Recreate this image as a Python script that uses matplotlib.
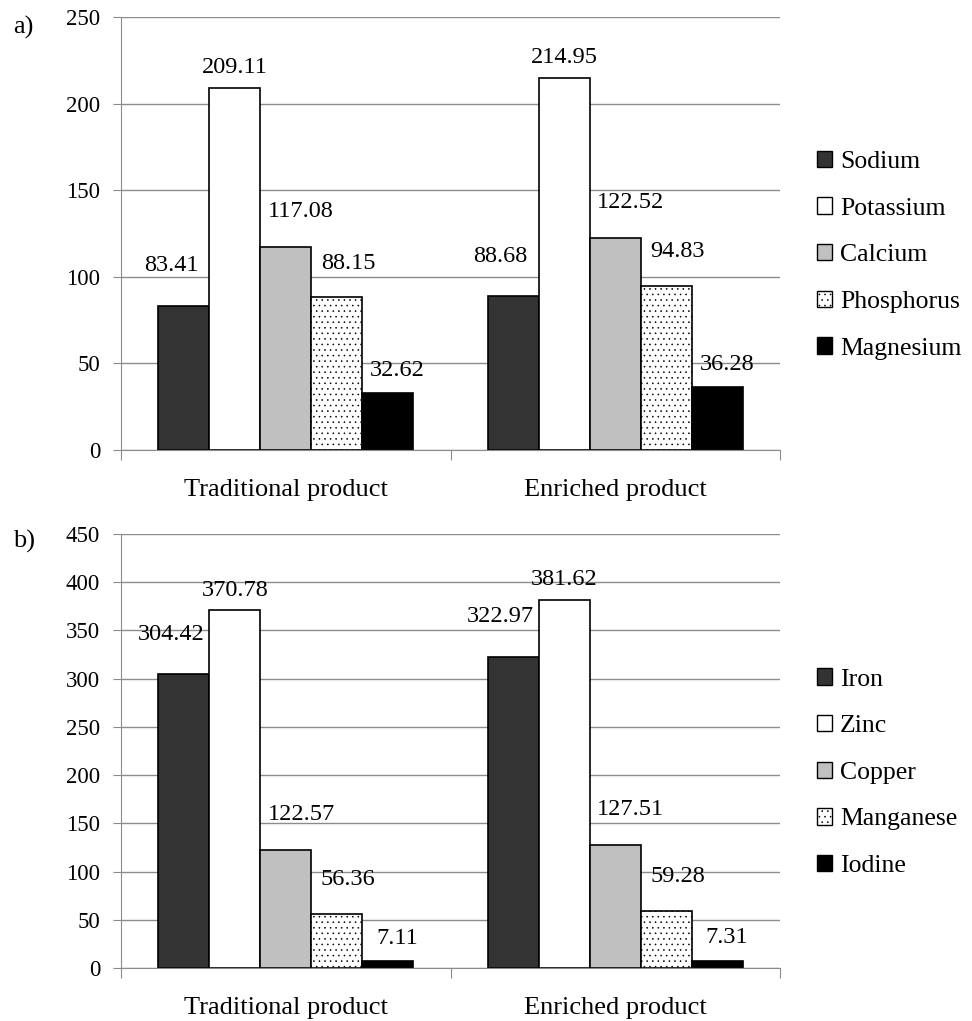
import numpy as np
import matplotlib
matplotlib.use("Agg")
import matplotlib.pyplot as plt
from matplotlib.patches import Patch

plt.rcParams['font.family'] = ['Liberation Serif', 'DejaVu Serif']
plt.rcParams['hatch.color'] = '#999999'
plt.rcParams['hatch.linewidth'] = 0.4

# data
products = ['Traditional product', 'Enriched product']

macro_names = ['Sodium', 'Potassium', 'Calcium', 'Phosphorus', 'Magnesium']
macro_values = [
    [83.41, 88.68],
    [209.11, 214.95],
    [117.08, 122.52],
    [88.15, 94.83],
    [32.62, 36.28],
]

micro_names = ['Iron', 'Zinc', 'Copper', 'Manganese', 'Iodine']
micro_values = [
    [304.42, 322.97],
    [370.78, 381.62],
    [122.57, 127.51],
    [56.36, 59.28],
    [7.11, 7.31],
]

# styles per series
fills = ['#333333', 'white', '#c0c0c0', 'white', 'black']
hatches = [None, None, None, '...', None]
# label nudges (points), per series
lab_dx = [-9, 0, 11, 8, 7]
lab_dy = [21, 7, 18, 17, 9]

FS_VAL = 17.5
FS_TICK = 16.5
FS_CAT = 19
FS_LEG = 18.5
GRID = '#8c8c8c'


def draw_panel(ax, names, values, ymax):
    n = len(names)
    bw = 0.155
    x = np.arange(len(products))
    for i in range(n):
        pos = x - bw * (n - 1) / 2 + i * bw
        ax.bar(pos, values[i], width=bw, color=fills[i], edgecolor='black',
               linewidth=1.2, hatch=hatches[i], zorder=3)
        for px, v in zip(pos, values[i]):
            ax.annotate(f'{v:.2f}', (px, v), xytext=(lab_dx[i], lab_dy[i]),
                        textcoords='offset points', ha='center', va='bottom',
                        fontsize=FS_VAL, zorder=4)
    ax.set_xlim(-0.5, len(products) - 0.5)
    ax.set_ylim(0, ymax)
    ax.set_yticks(np.arange(0, ymax + 1, 50))
    ax.yaxis.grid(True, color=GRID, linewidth=1.0, zorder=0)
    ax.set_axisbelow(True)
    ax.tick_params(axis='y', labelsize=FS_TICK, length=6, color=GRID, pad=9)
    # boundary ticks + centred labels
    ax.set_xticks(np.arange(-0.5, len(products), 1.0))
    ax.set_xticklabels([])
    ax.set_xticks(x, minor=True)
    ax.set_xticklabels(products, minor=True, fontsize=FS_CAT)
    ax.tick_params(axis='x', which='major', length=7, color=GRID, direction='out')
    ax.tick_params(axis='x', which='minor', length=0, pad=21)
    for s in ['top', 'right']:
        ax.spines[s].set_visible(False)
    ax.spines['left'].set_color(GRID)
    ax.spines['bottom'].set_color(GRID)
    ax.spines['bottom'].set_zorder(5)

    handles = [Patch(facecolor=fills[i], edgecolor='black', linewidth=1.0,
                     hatch=hatches[i]) for i in range(n)]
    ax.legend(handles, names, loc='center left', bbox_to_anchor=(1.04, 0.45),
              frameon=False, fontsize=FS_LEG, handlelength=0.6, handleheight=0.6,
              handletextpad=0.3, labelspacing=0.95, borderaxespad=0.0)


fig = plt.figure(figsize=(9.72, 10.21), dpi=100)
ax1 = fig.add_axes([0.1245, 0.5593, 0.678, 0.4240])
ax2 = fig.add_axes([0.1245, 0.0519, 0.678, 0.4251])

draw_panel(ax1, macro_names, macro_values, 250)
draw_panel(ax2, micro_names, micro_values, 450)

fig.text(0.0134, 0.9736, 'a)', fontsize=FS_CAT, ha='left', va='center')
fig.text(0.0134, 0.4692, 'b)', fontsize=FS_CAT, ha='left', va='center')

fig.savefig('out.png', dpi=100)
